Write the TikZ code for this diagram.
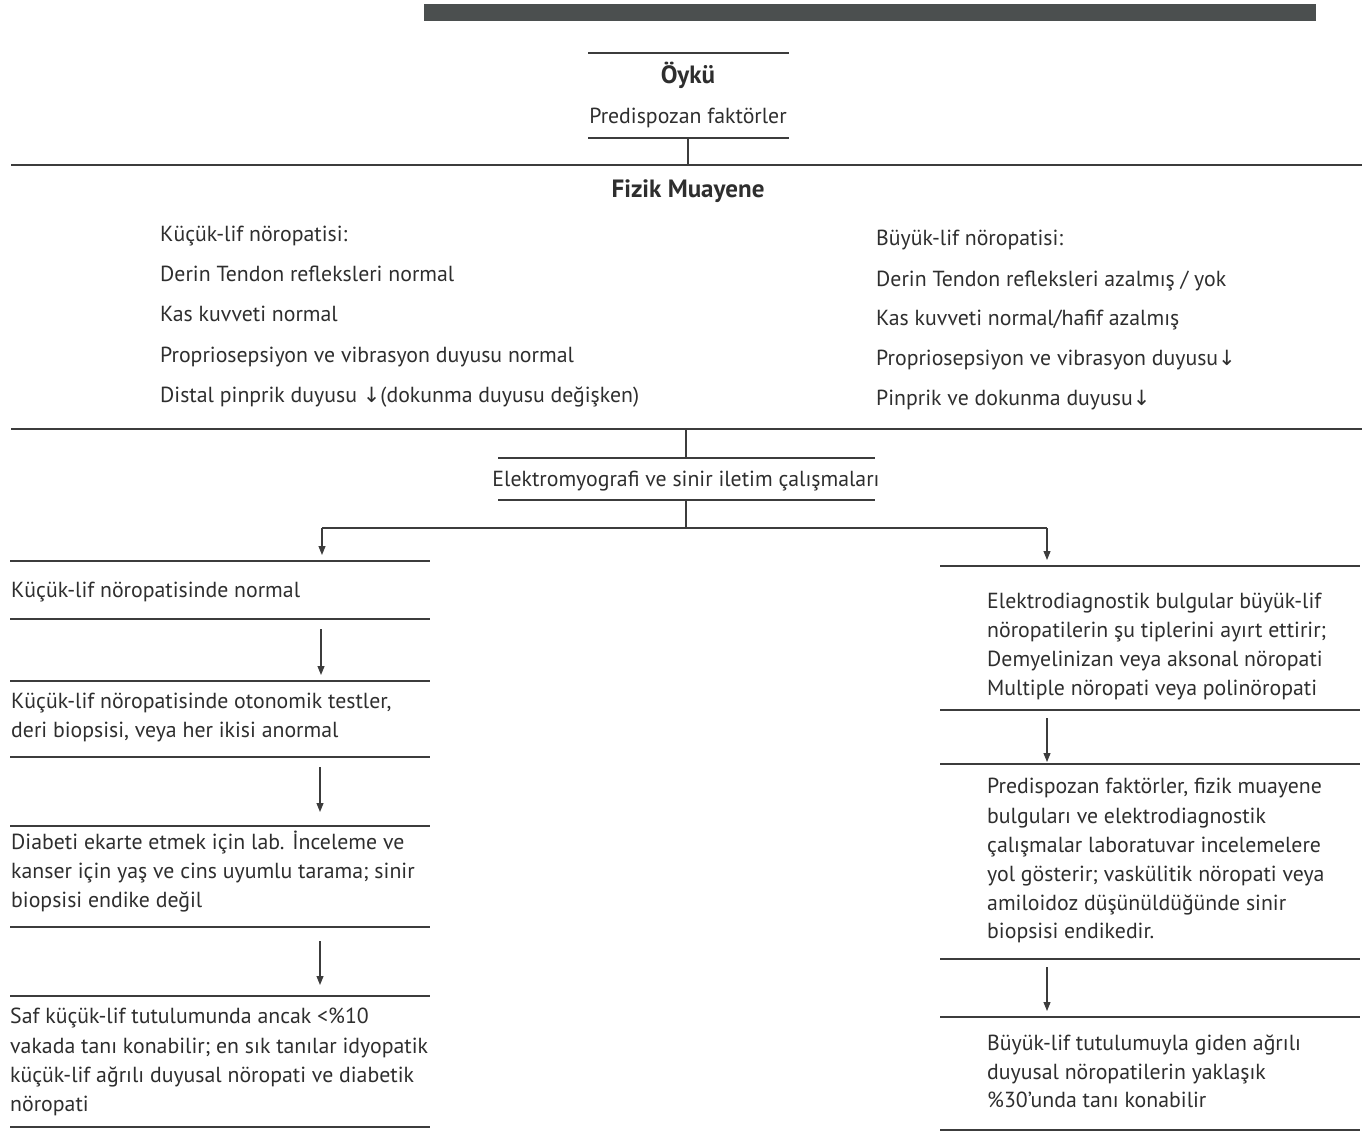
\documentclass[tikz,border=0pt]{standalone}
\usepackage{fontspec}
\setmainfont{PT Sans}
\newfontfamily\arrowfont{DejaVu Sans}
\usetikzlibrary{arrows.meta}
\definecolor{ink}{HTML}{2E2E2E}
\definecolor{rulec}{HTML}{3C3C3C}
\definecolor{barc}{HTML}{4B4F4F}
\newcommand{\dnarr}{{\arrowfont\fontsize{21}{24}\selectfont ↓}}
\begin{document}
\begin{tikzpicture}[x=1pt,y=-1pt,
  txt/.style={anchor=base west, inner sep=0pt, text=ink, font=\fontsize{21.8}{26}\selectfont},
  ctxt/.style={txt, anchor=base},
  hd/.style={ctxt, font=\fontsize{25}{29}\selectfont\bfseries},
  hline/.style={draw=rulec, line width=1.1pt},
  conn/.style={draw=rulec, line width=1.1pt},
  arr/.style={conn, -{Triangle[length=9pt,width=7pt]}}]
\useasboundingbox (0,0) rectangle (1370,1132);
\fill[barc] (424,4) rectangle (1316,21);

% Oyku
\draw[hline] (588,53) -- (789,53);
\node[hd] (oyku) at (688,84) {Öykü};
\node[ctxt] (predisp) at (688,123) {Predispozan faktörler};
\draw[hline] (588,138) -- (789,138);
\coordinate (oykuB) at (688,138);
\coordinate (fizT) at (688,165);
\draw[conn] (oykuB) -- (fizT);
\draw[hline] (11,165) -- (1362,165);
\node[hd] (fizik) at (688,197) {Fizik Muayene};

% left exam
\node[txt] (k1) at (160,241) {Küçük-lif nöropatisi:};
\node[txt] (k2) at (160,281) {Derin Tendon refleksleri normal};
\node[txt] (k3) at (160,321) {Kas kuvveti normal};
\node[txt] (k4) at (160,362) {Propriosepsiyon ve vibrasyon duyusu normal};
\node[txt] (k5) at (160,402) {Distal pinprik duyusu \dnarr(dokunma duyusu değişken)};
% right exam
\node[txt] (b1) at (876,245) {Büyük-lif nöropatisi:};
\node[txt] (b2) at (876,286) {Derin Tendon refleksleri azalmış / yok};
\node[txt] (b3) at (876,325) {Kas kuvveti normal/hafif azalmış};
\node[txt] (b4) at (876,365) {Propriosepsiyon ve vibrasyon duyusu\dnarr};
\node[txt] (b5) at (876,405) {Pinprik ve dokunma duyusu\dnarr};

\draw[hline] (11,429) -- (1362,429);
\coordinate (fizB) at (686,429);
\coordinate (emgT) at (686,458);
\draw[conn] (fizB) -- (emgT);
\draw[hline] (498,458) -- (875,458);
\node[ctxt] (emg) at (686,486) {Elektromyografi ve sinir iletim çalışmaları};
\draw[hline] (498,500) -- (875,500);
\coordinate (emgB) at (686,500);
\coordinate (split) at (686,528);
\coordinate (splitL) at (322,528);
\coordinate (splitR) at (1047,528);
\coordinate (L1t) at (322,555);
\coordinate (R1t) at (1047,560);
\draw[conn] (emgB) -- (split);
\draw[conn] (splitL) -- (splitR);
\draw[arr] (splitL) -- (L1t);
\draw[arr] (splitR) -- (R1t);

% left column
\draw[hline] (10,561) -- (430,561);
\node[txt] (l1) at (11,597) {Küçük-lif nöropatisinde normal};
\draw[hline] (10,619) -- (430,619);
\coordinate (l1b) at (321,629);
\coordinate (l2t) at (321,675);
\draw[arr] (l1b) -- (l2t);
\draw[hline] (10,681) -- (430,681);
\node[txt] (l2a) at (11,708) {Küçük-lif nöropatisinde otonomik testler,};
\node[txt] (l2b) at (11,737) {deri biopsisi, veya her ikisi anormal};
\draw[hline] (10,757) -- (430,757);
\coordinate (l2e) at (320,767);
\coordinate (l3t) at (320,812);
\draw[arr] (l2e) -- (l3t);
\draw[hline] (10,826) -- (430,826);
\node[txt] (l3a) at (11,849) {Diabeti ekarte etmek için lab. İnceleme ve};
\node[txt] (l3b) at (11,878) {kanser için yaş ve cins uyumlu tarama; sinir};
\node[txt] (l3c) at (11,907) {biopsisi endike değil};
\draw[hline] (10,927) -- (430,927);
\coordinate (l3e) at (320,941);
\coordinate (l4t) at (320,985);
\draw[arr] (l3e) -- (l4t);
\draw[hline] (10,996) -- (430,996);
\node[txt] (l4a) at (10,1023) {Saf küçük-lif tutulumunda ancak <\%10};
\node[txt] (l4b) at (10,1053) {vakada tanı konabilir; en sık tanılar idyopatik};
\node[txt] (l4c) at (10,1082) {küçük-lif ağrılı duyusal nöropati ve diabetik};
\node[txt] (l4d) at (10,1111) {nöropati};
\draw[hline] (10,1127) -- (430,1127);

% right column
\draw[hline] (940,566) -- (1360,566);
\node[txt] (r1a) at (987,608) {Elektrodiagnostik bulgular büyük-lif};
\node[txt] (r1b) at (987,637) {nöropatilerin şu tiplerini ayırt ettirir;};
\node[txt] (r1c) at (987,666) {Demyelinizan veya aksonal nöropati};
\node[txt] (r1d) at (987,695) {Multiple nöropati veya polinöropati};
\draw[hline] (940,710) -- (1360,710);
\coordinate (r1e) at (1047,718);
\coordinate (r2t) at (1047,762);
\draw[arr] (r1e) -- (r2t);
\draw[hline] (940,764) -- (1360,764);
\node[txt] (r2a) at (987,793) {Predispozan faktörler, fizik muayene};
\node[txt] (r2b) at (987,823) {bulguları ve elektrodiagnostik};
\node[txt] (r2c) at (987,852) {çalışmalar laboratuvar incelemelere};
\node[txt] (r2d) at (987,881) {yol gösterir; vaskülitik nöropati veya};
\node[txt] (r2e) at (987,910) {amiloidoz düşünüldüğünde sinir};
\node[txt] (r2f) at (987,938) {biopsisi endikedir.};
\draw[hline] (940,959) -- (1360,959);
\coordinate (r2x) at (1047,967);
\coordinate (r3t) at (1047,1011);
\draw[arr] (r2x) -- (r3t);
\draw[hline] (940,1017) -- (1360,1017);
\node[txt] (r3a) at (987,1050) {Büyük-lif tutulumuyla giden ağrılı};
\node[txt] (r3b) at (987,1079) {duyusal nöropatilerin yaklaşık};
\node[txt] (r3c) at (987,1107) {\%30’unda tanı konabilir};
\draw[hline] (940,1130) -- (1360,1130);
\end{tikzpicture}
\end{document}
